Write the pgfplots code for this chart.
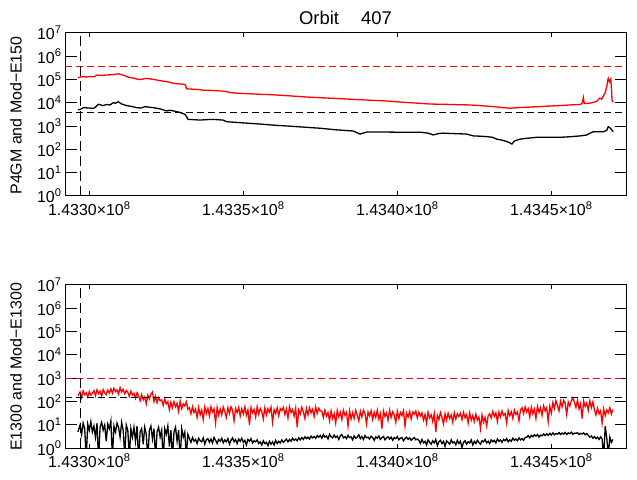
\documentclass[border=0pt]{standalone}
\usepackage{pgfplots}
\pgfplotsset{compat=1.18}
\usepackage{fontspec}
\setmainfont{Liberation Sans}
\tikzset{
 dat/.style={line width=1.3bp},
 noisy/.style={line width=1.3bp},
 hdash/.style={line width=1bp, dash pattern=on 7bp off 4bp},
 vdash/.style={line width=1bp, black, dash pattern=on 10bp off 5bp},
}
\begin{document}
\begin{tikzpicture}
\useasboundingbox (0,0) rectangle (637bp,480bp);
\node[anchor=base, font=\fontsize{18.5}{22}\selectfont] at (345.5bp,455bp) {Orbit\hspace{22bp}407};
\node[rotate=90, anchor=base, inner sep=0pt, font=\fontsize{16}{19}\selectfont] at (21.7bp,364.5bp) {P4GM and Mod−E150};
\node[rotate=90, anchor=base, inner sep=0pt, font=\fontsize{16}{19}\selectfont] at (21.7bp,113bp) {E1300 and Mod−E1300};

% ---------------- top panel ----------------
\begin{semilogyaxis}[
  at={(65bp,284bp)}, anchor=south west,
  scale only axis, width=561bp, height=163bp,
  xmin=-7.89, xmax=174.25, ymin=1, ymax=1e7,
  xtick=\empty,
  extra x ticks={0,50,100,150},
  extra x tick labels={1.4330×10\textsuperscript{8},1.4335×10\textsuperscript{8},1.4340×10\textsuperscript{8},1.4345×10\textsuperscript{8}},
  extra x tick style={major tick length=4.5bp},
  minor xtick={0,10,20,30,40,50,60,70,80,90,100,110,120,130,140,150,160,170},
  ytick={1,10,100,1000,10000,100000,1000000,10000000},
  yticklabels={10\textsuperscript{0},10\textsuperscript{1},10\textsuperscript{2},10\textsuperscript{3},10\textsuperscript{4},10\textsuperscript{5},10\textsuperscript{6},10\textsuperscript{7}},
  yminorticks=false,
  tick align=inside,
  major tick length=11.5bp, minor tick length=2.5bp,
  every tick/.append style={line width=1bp, black},
  axis line style={line width=1bp},
  tick label style={font=\fontsize{16}{19}\selectfont},
  xticklabel style={yshift=-2bp},
]
\addplot[dat, black] coordinates {
(-3.6,4900) (-2.5,5600) (-1.9,6200) (0,6000) (1.3,5800) (2,6500) (2.9,8700) (3.6,8200)
(4.5,7600) (5.5,8500) (6.7,8100) (7.8,10200) (8.5,9600) (9.4,11200) (10.5,8900) (11.3,8300)
(12.1,7600) (13.8,7000) (15.4,6200) (16.8,6000) (18.1,6900) (19.5,6500) (20.8,6200) (23,5500)
(25.1,4500) (26.2,4800) (27.3,4500) (29.4,3900) (31.1,3200) (32.1,1950) (34,1900) (35.9,1820)
(38,1900) (40.2,1950) (42,1880) (43.5,1820) (44.6,1550) (48.9,1410) (52,1320) (55.4,1230)
(60,1100) (65,1000) (70,900) (74.9,813) (80.3,692) (85.7,617) (87.9,457) (90.1,562)
(95,560) (99.8,550) (104,545) (107.4,550) (110,500) (111.7,417) (113,470) (114.9,501)
(118,480) (122.5,457) (124.7,380) (127,370) (129,355) (131,330) (132.3,275) (134,250)
(135.5,220) (136.6,190) (137.2,170) (138,230) (139.8,275) (142,300) (145.3,331) (149,335)
(152.8,331) (156,350) (159.3,380) (161.5,417) (162.6,500) (163.6,575) (166.9,575) (168,650)
(168.5,955) (169,850) (169.6,692) (170.1,575)
};
\addplot[dat, red] coordinates {
(-3.6,120000) (-2.5,133000) (-1,130000) (0.5,135000) (1.5,131000) (2.4,155000) (4,150000) (5.6,158000)
(7,160000) (8.3,168000) (9.4,178000) (10.5,162000) (11.3,150000) (12.1,135000) (13.5,120000) (14.5,115000)
(15.4,105000) (16.8,100000) (18,112000) (19.5,108000) (20.8,102000) (22,95000) (23,89000) (24,86000)
(25.1,81000) (26.3,76000) (27.3,69000) (28.8,66000) (30.5,63000) (31.2,61000) (31.6,40000) (33,39000)
(34.9,38000) (37,35000) (40,34000) (43.5,32000) (44.8,30000) (45.7,27500) (48,26000) (52.2,24500)
(55.4,23400) (60,22000) (65,20000) (70,18000) (74.9,16600) (80,15500) (85.7,14100) (91,13000)
(96.6,12000) (101,10800) (105,10000) (110.6,8900) (116,8600) (123.6,8100) (127,7600) (131.2,6900)
(134,6300) (136.6,5900) (139,6200) (142,6500) (146,6900) (150.6,7400) (154,7800) (157.1,8300)
(159.5,8600) (160.1,10000) (160.4,17000) (160.7,9500) (161.5,9300) (163,10000) (164.7,11500) (165.3,14000)
(165.8,16000) (166.4,14500) (166.9,20000) (167.4,26000) (168,49000) (168.3,90000) (168.5,112000) (168.9,80000)
(169.3,105000) (169.6,30000) (169.7,13000) (170.1,10500)
};
\addplot[hdash, red] coordinates {(-7.89,370000) (174.25,370000)};
\addplot[hdash, black] coordinates {(-7.89,3700) (174.25,3700)};
\addplot[vdash] coordinates {(-2.8,1) (-2.8,10000000)};
\end{semilogyaxis}

% ---------------- bottom panel ----------------
\begin{semilogyaxis}[
  at={(65bp,31.7bp)}, anchor=south west,
  scale only axis, width=561bp, height=163.3bp,
  xmin=-7.89, xmax=174.25, ymin=1, ymax=1e7,
  xtick=\empty,
  extra x ticks={0,50,100,150},
  extra x tick labels={1.4330×10\textsuperscript{8},1.4335×10\textsuperscript{8},1.4340×10\textsuperscript{8},1.4345×10\textsuperscript{8}},
  extra x tick style={major tick length=4.5bp},
  minor xtick={0,10,20,30,40,50,60,70,80,90,100,110,120,130,140,150,160,170},
  ytick={1,10,100,1000,10000,100000,1000000,10000000},
  yticklabels={10\textsuperscript{0},10\textsuperscript{1},10\textsuperscript{2},10\textsuperscript{3},10\textsuperscript{4},10\textsuperscript{5},10\textsuperscript{6},10\textsuperscript{7}},
  yminorticks=false,
  tick align=inside,
  major tick length=11.5bp, minor tick length=2.5bp,
  every tick/.append style={line width=1bp, black},
  axis line style={line width=1bp},
  tick label style={font=\fontsize{16}{19}\selectfont},
  xticklabel style={yshift=-2bp},
]
\addplot[noisy, black] coordinates {
(-3.7,5) (-3,10) (-2.5,4) (-2,12) (-1.5,7) (-1,0.4) (-0.5,11) (0,6) (0.5,14) (1,5) (1.5,9) (2,3) (2.5,12) (3,0.3) (3.5,8) (4,13) (4.5,6) (5,10) (5.5,2) (6,11) (6.5,7) (7,15) (7.5,0.4) (8,9) (8.5,5) (9,12) (9.5,8) (10,3) (10.5,13) (11,6) (11.5,0.5) (12,10)
(12.5,6) (13,0.4) (13.5,7) (14,3) (14.5,8) (15,2) (15.5,9) (16,0.3) (16.5,5) (17,7) (17.5,1.5) (18,8) (18.5,4) (19,0.3) (19.5,6) (20,9) (20.5,2.5) (21,7) (21.5,0.4) (22,5) (22.5,8) (23,3) (23.5,6) (24,0.3) (24.5,7) (25,4) (25.5,9) (26,1.2) (26.5,6) (27,0.4) (27.5,5) (28,8) (28.5,2) (29,6) (29.5,0.3) (30,7) (30.5,3) (31,5) (31.5,0.5) (32,4)
(32.5,2.6) (33,1.8) (33.5,2.9) (34,2.0) (34.5,2.4) (35,1.6) (35.5,2.7) (36,2.1) (36.5,1.9) (37,2.8) (37.5,1.5) (38,2.3) (38.5,2.6) (39,1.8) (39.5,2.5) (40,1.7) (40.5,2.9) (41,2.2) (41.5,1.6) (42,2.4) (42.5,2.0) (43,2.7) (43.5,1.7) (44,2.3) (44.5,1.9) (45,2.6) (45.5,1.5) (46,2.2) (46.5,2.8) (47,1.9) (47.5,2.4) (48,1.6) (48.5,2.5) (49,2.0) (49.5,2.7) (50,1.8) (50.5,2.2) (51,1.4) (51.5,2.4) (52,2.0) (52.5,2.6) (53,1.7) (53.5,2.1) (54,1.9) (54.5,2.3) (55,1.6)
(55.5,1.9) (56,1.4) (56.5,2.1) (57,1.6) (57.5,1.8) (58,1.3) (58.5,2.0) (59,1.5) (59.5,1.9) (60,1.4) (60.5,2.2) (61,1.6) (61.5,2.0) (62,1.7) (62.5,2.3) (63,1.8) (63.5,2.1) (64,2.5) (64.5,1.9) (65,2.4) (65.5,2.0) (66,2.7) (66.5,2.2) (67,2.5) (67.5,2.1) (68,2.8) (68.5,2.3) (69,2.9) (69.5,2.4) (70,3.1) (70.5,2.6) (71,3.0) (71.5,2.5) (72,3.3) (72.5,2.8) (73,3.2) (73.5,2.7) (74,3.5) (74.5,3.0)
(75,3.6) (75.5,2.7) (76,3.9) (76.5,3.0) (77,3.4) (77.5,2.5) (78,4.0) (78.5,3.1) (79,2.8) (79.5,3.7) (80,2.9) (80.5,3.3) (81,2.4) (81.5,3.5) (82,3.9) (82.5,2.8) (83,3.2) (83.5,2.6) (84,3.6) (84.5,2.9) (85,3.1) (85.5,2.3) (86,3.4) (86.5,2.7) (87,3.0) (87.5,3.8) (88,2.6) (88.5,3.2) (89,2.4) (89.5,3.5) (90,2.8) (90.5,3.0) (91,2.5) (91.5,3.3) (92,2.9) (92.5,2.2) (93,3.1) (93.5,2.7) (94,3.4) (94.5,2.4) (95,2.9) (95.5,3.2) (96,2.3) (96.5,2.8) (97,3.1) (97.5,2.5) (98,3.0) (98.5,2.2) (99,2.9) (99.5,2.6) (100,3.2) (100.5,2.3) (101,2.7) (101.5,2.9) (102,2.1) (102.5,2.6) (103,3.0) (103.5,2.4) (104,2.8) (104.5,2.2) (105,2.6) (105.5,2.9) (106,2.3) (106.5,2.5)
(107,2.2) (107.5,1.6) (108,2.4) (108.5,1.7) (109,2.0) (109.5,1.4) (110,2.3) (110.5,1.8) (111,1.5) (111.5,2.1) (112,1.7) (112.5,2.4) (113,1.3) (113.5,1.9) (114,2.2) (114.5,1.6) (115,2.0) (115.5,1.2) (116,2.1) (116.5,1.8) (117,1.5) (117.5,2.3) (118,1.7) (118.5,1.9) (119,1.4) (119.5,2.2) (120,1.6) (120.5,2.0) (121,1.1) (121.5,1.8) (122,2.1) (122.5,1.5) (123,1.9) (123.5,1.7) (124,2.3) (124.5,1.4) (125,2.0) (125.5,1.6) (126,2.2) (126.5,1.8) (127,1.5) (127.5,2.1) (128,1.9) (128.5,2.4) (129,1.7) (129.5,2.0) (130,1.6) (130.5,2.3) (131,1.9) (131.5,2.2) (132,1.7) (132.5,2.5) (133,2.0) (133.5,2.3) (134,1.8) (134.5,2.4) (135,2.1) (135.5,2.6) (136,1.9) (136.5,2.3) (137,2.0) (137.5,2.7) (138,2.2) (138.5,2.5) (139,2.1) (139.5,2.8) (140,2.3) (140.5,2.6) (141,2.2) (141.5,2.9)
(142,3.0) (142.5,3.5) (143,2.8) (143.5,3.6) (144,3.1) (144.5,3.8) (145,3.3) (145.5,3.9) (146,3.0) (146.5,3.7) (147,3.4) (147.5,4.1) (148,3.5) (148.5,4.2) (149,3.6) (149.5,4.4) (150,3.7) (150.5,4.6) (151,3.8) (151.5,4.3) (152,4.0) (152.5,4.7) (153,3.9) (153.5,4.5) (154,4.1) (154.5,4.8) (155,3.9) (155.5,4.6) (156,4.2) (156.5,4.9) (157,4.0) (157.5,4.5) (158,4.3) (158.5,4.7) (159,3.9) (159.5,4.4) (160,4.1) (160.5,4.6) (161,3.8) (161.5,4.3)
(162,3.6) (162.5,3.0) (163,3.4) (163.5,2.7) (164,3.2) (164.5,2.6) (165,3.0) (165.5,2.4) (166,3.1) (166.5,2.5) (167,0.4) (167.5,8.8) (168,2.8) (168.5,0.5) (169,3.0) (169.5,1.8) (170,2.4)
};
\addplot[noisy, red] coordinates {
(-3.7,180) (-3,260) (-2.5,150) (-2,290) (-1.5,200) (-1,240) (-0.5,160) (0,270) (0.5,190) (1,230)
(1.5,300) (2,180) (2.5,320) (3,220) (3.5,280) (4,170) (4.5,330) (5,240) (5.5,200) (6,310) (6.5,230)
(7,350) (7.5,230) (8,380) (8.5,270) (9,320) (9.5,210) (10,400) (10.5,260) (11,340) (11.5,220) (12,300)
(12.5,250) (13,170) (13.5,280) (14,190) (14.5,230) (15,140) (15.5,240)
(16,180) (16.5,110) (17,200) (17.5,120) (18,160) (18.5,80) (19,190) (19.5,130) (20,210) (20.5,260) (21,100) (21.5,170) (22,90) (22.5,150) (23,110)
(23.5,120) (24,70) (24.5,130) (25,80) (25.5,100) (26,45)
(26.5,95) (27,55) (27.5,100) (28,60) (28.5,85) (29,38) (29.5,105) (30,50) (30.5,80) (31,65) (31.5,98) (32,48)
(32.5,55) (33,30) (33.5,61) (34,34) (34.5,48) (35,21) (35.5,57) (36,27) (36.5,44) (37,17) (37.5,59) (38,31) (38.5,51) (39,24) (39.5,60) (40,36) (40.5,49) (41,12) (41.5,56) (42,26)
(42.5,48) (43,27) (43.5,59) (44,36) (44.5,21) (45,55) (45.5,31) (46,60) (46.5,44) (47,15) (47.5,51) (48,34) (48.5,57) (49,24) (49.5,49) (50,30) (50.5,61) (51,26) (51.5,44) (52,10)
(52.5,56) (53,33) (53.5,47) (54,22) (54.5,60) (55,29) (55.5,52) (56,38) (56.5,18) (57,55) (57.5,27) (58,49) (58.5,35) (59,58) (59.5,13) (60,45) (60.5,31) (61,54) (61.5,25) (62,50)
(62.5,41) (63,57) (63.5,28) (64,49) (64.5,20) (65,61) (65.5,34) (66,46) (66.5,24) (67,53) (67.5,8) (68,44) (68.5,30) (69,58) (69.5,36) (70,19) (70.5,51) (71,27) (71.5,55) (72,33)
(72.5,47) (73,23) (73.5,59) (74,31) (74.5,52) (75,40)
(75.5,39) (76,21) (76.5,43) (77,24) (77.5,34) (78,15) (78.5,40) (79,19) (79.5,31) (80,12) (80.5,42) (81,22) (81.5,36) (82,17) (82.5,43) (83,26) (83.5,35) (84,9) (84.5,40) (85,18)
(85.5,34) (86,19) (86.5,42) (87,26) (87.5,15) (88,39) (88.5,22) (89,43) (89.5,31) (90,11) (90.5,36) (91,24) (91.5,40) (92,17) (92.5,35) (93,21) (93.5,43) (94,18) (94.5,31) (95,7)
(95.5,40) (96,23) (96.5,33) (97,16) (97.5,43) (98,21) (98.5,37) (99,27) (99.5,13) (100,39) (100.5,19) (101,35) (101.5,25) (102,41) (102.5,9) (103,32) (103.5,22) (104,38) (104.5,18) (105,36)
(105.5,29) (106,40) (106.5,20) (107,35)
(107.5,24) (108,33) (108.5,16) (109,28) (109.5,12) (110,35) (110.5,20) (111,27) (111.5,14) (112,31) (112.5,5) (113,26) (113.5,17) (114,34) (114.5,21) (115,11) (115.5,30) (116,16) (116.5,32) (117,19)
(117.5,27) (118,13) (118.5,34) (119,18) (119.5,30) (120,23) (120.5,32) (121,17) (121.5,35) (122,20) (122.5,28) (123,12) (123.5,33) (124,16)
(124.5,26) (125,14) (125.5,29) (126,16) (126.5,22) (127,7) (127.5,27) (128,13) (128.5,21) (129,9) (129.5,25)
(130,30) (130.5,20) (131,38) (131.5,23) (132,33) (132.5,14) (133,36) (133.5,22) (134,40) (134.5,26) (135,31) (135.5,12) (136,42) (136.5,25) (137,37) (137.5,19) (138,44) (138.5,28) (139,36) (139.5,15) (140,45)
(140.5,55) (141,31) (141.5,60) (142,36) (142.5,50) (143,22) (143.5,58) (144,30) (144.5,48) (145,19) (145.5,64) (146,35) (146.5,56) (147,26) (147.5,66) (148,40) (148.5,55) (149,14) (149.5,62) (150,32)
(150.5,91) (151,51) (151.5,112) (152,68) (152.5,40) (153,104) (153.5,59) (154,113) (154.5,83) (155,28) (155.5,96) (156,64) (156.5,108) (157,145) (157.5,93) (158,57) (158.5,115) (159,49) (159.5,83) (160,19) (160.5,106) (161,62) (161.5,89) (162,42) (162.5,110) (163,55) (163.5,98)
(164,45) (164.5,27) (165,52) (165.5,30) (166,41) (166.5,12) (167,48) (167.5,25) (168,44) (168.5,33) (169,55) (169.5,29) (170,46)
};
\addplot[hdash, red] coordinates {(-7.89,1000) (174.25,1000)};
\addplot[hdash, black] coordinates {(-7.89,153) (174.25,153)};
\addplot[vdash] coordinates {(-2.8,1) (-2.8,10000000)};
\end{semilogyaxis}
\end{tikzpicture}
\end{document}
